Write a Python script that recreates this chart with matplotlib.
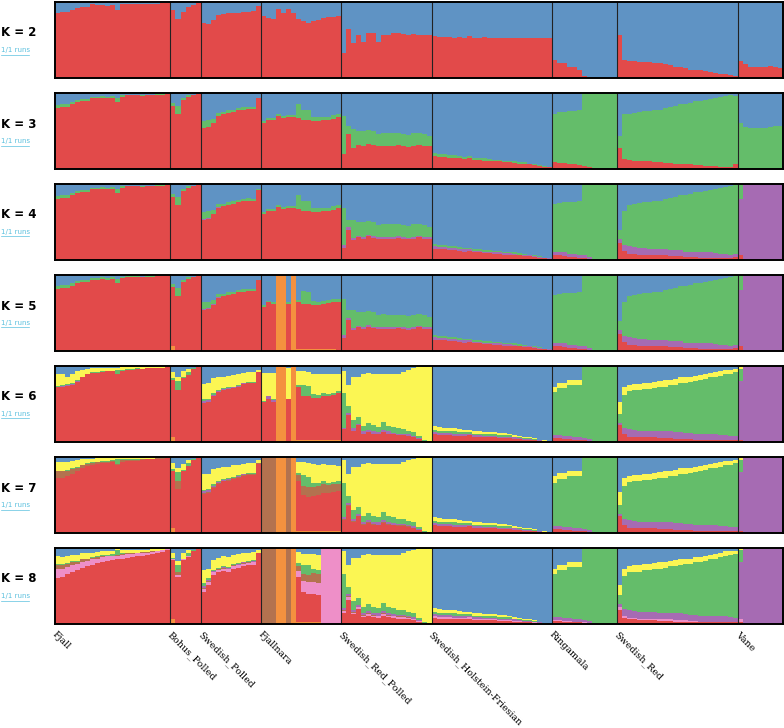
#!/usr/bin/env python3

# +
# import(s)
# -
import numpy as np
import matplotlib as mpl
mpl.use('Agg')
import matplotlib.pyplot as plt
from matplotlib.lines import Line2D


# +
# populations, sample counts and cluster colours
# -
POPS = ['Fjall', 'Bohus_Polled', 'Swedish_Polled', 'Fjallnara', 'Swedish_Red_Polled',
        'Swedish_Holstein-Friesian', 'Ringamala', 'Swedish_Red', 'Vane']
KEYS = ['FJ', 'BO', 'SP', 'FN', 'SRP', 'SHF', 'RI', 'SR', 'VA']
SIZES = [23, 6, 12, 16, 18, 24, 13, 24, 9]

# stacking order, bottom of the bar to the top (blue takes what is left)
CLUSTERS = ['orange', 'red', 'pink', 'brown', 'purple', 'green', 'yellow', 'blue']
COLORS = {'orange': '#f4913f', 'red': '#e24a4a', 'pink': '#ee8fc8', 'brown': '#b3724f',
          'purple': '#a66bb3', 'green': '#64bd6a', 'yellow': '#fbf653', 'blue': '#5f93c4'}

KS = [2, 3, 4, 5, 6, 7, 8]


# +
# membership (%) per individual
# -
# K = 2
k2_red = dict(
    FJ=[85, 87, 87, 89, 92, 93, 93, 97, 96, 96, 95, 96, 90, 97, 98, 98, 98, 97, 98, 98, 98, 99, 99],
    BO=[89, 78, 87, 93, 96, 99],
    SP=[72, 71, 76, 83, 84, 85, 85, 86, 87, 87, 88, 95],
    FN=[81, 79, 78, 91, 86, 91, 86, 78, 75, 73, 75, 76, 79, 80, 80, 81],
    SRP=[33, 65, 46, 57, 48, 59, 59, 48, 57, 57, 59, 59, 58, 57, 58, 56, 57, 57],
    SHF=[55, 54, 54, 54, 53, 54, 53, 55, 53, 53, 54, 53, 53, 53, 52, 53, 53, 52, 53, 53, 53, 52, 53, 53],
    RI=[24, 20, 20, 15, 15, 11, 3, 1, 0, 0, 0, 0, 0],
    SR=[57, 24, 22, 22, 21, 21, 21, 20, 20, 18, 17, 15, 14, 13, 11, 10, 10, 9, 8, 6, 5, 5, 4, 3],
    VA=[22, 18, 15, 15, 15, 15, 16, 14, 13])

# K = 3
k3_red = dict(
    FJ=[80, 82, 82, 85, 88, 90, 90, 93, 93, 94, 93, 94, 88, 95, 97, 97, 97, 96, 97, 97, 98, 98, 99],
    BO=[83, 72, 91, 95, 97, 99],
    SP=[54, 55, 61, 70, 72, 74, 75, 77, 78, 79, 79, 93],
    FN=[61, 64, 64, 70, 67, 69, 69, 67, 65, 65, 63, 63, 64, 65, 66, 68],
    SRP=[20, 46, 28, 32, 30, 33, 31, 30, 30, 30, 30, 31, 30, 29, 30, 32, 30, 30],
    SHF=[17, 16, 16, 15, 15, 14, 13, 14, 12, 12, 11, 11, 10, 10, 9, 9, 8, 7, 7, 6, 5, 4, 3, 2],
    RI=[9, 8, 8, 6, 6, 5, 4, 3, 1, 0, 0, 0, 0],
    SR=[28, 13, 12, 11, 11, 10, 10, 9, 9, 8, 8, 7, 7, 6, 6, 5, 5, 4, 4, 4, 3, 3, 3, 6])
k3_green = dict(
    FJ=[4, 4, 4, 3, 3, 2, 2, 2, 2, 2, 2, 2, 6, 2, 1, 1, 1, 1, 1, 1, 1, 1, 0],
    BO=[4, 11, 3, 2, 1, 0],
    SP=[9, 9, 5, 4, 3, 3, 3, 3, 3, 3, 2, 1],
    FN=[2, 3, 3, 2, 3, 2, 2, 19, 13, 12, 5, 5, 4, 4, 5, 4],
    SRP=[50, 10, 24, 18, 20, 18, 19, 16, 18, 17, 17, 16, 16, 16, 17, 16, 16, 14],
    SHF=[4, 4, 4, 3, 3, 3, 3, 3, 3, 3, 3, 2, 2, 2, 2, 2, 2, 2, 2, 1, 1, 1, 1, 1],
    RI=[64, 67, 67, 70, 70, 73, 96, 97, 99, 100, 100, 100, 100],
    SR=[15, 59, 60, 63, 64, 66, 66, 68, 69, 72, 74, 76, 78, 80, 81, 84, 85, 87, 88, 89, 92, 93, 94, 90],
    VA=[61, 55, 54, 54, 54, 54, 55, 56, 56])

# K = 4
k4_red = dict(k3_red,
    SP=[53, 54, 60, 69, 71, 73, 74, 76, 77, 78, 78, 92],
    SRP=[16, 40, 26, 30, 28, 31, 29, 28, 28, 28, 28, 29, 28, 27, 28, 30, 28, 28],
    SHF=[15, 14, 14, 13, 13, 12, 11, 12, 10, 10, 9, 9, 8, 8, 7, 7, 6, 6, 5, 5, 4, 3, 2, 1],
    RI=[6, 6, 5, 4, 4, 3, 2, 1, 0, 0, 0, 0, 0],
    SR=[23, 12, 8, 8, 7, 7, 7, 6, 6, 6, 5, 5, 5, 4, 4, 4, 3, 3, 3, 3, 2, 2, 2, 4],
    VA=[7, 0, 0, 0, 0, 0, 0, 0, 0])
k4_purple = dict(
    SP=[1, 1, 1, 1, 0, 0, 0, 0, 0, 0, 0, 0],
    SRP=[4, 3, 3, 2, 2, 2, 2, 2, 2, 2, 2, 2, 2, 2, 2, 2, 2, 2],
    SHF=[3, 3, 3, 3, 3, 3, 3, 2, 2, 2, 2, 2, 2, 2, 2, 2, 2, 1, 1, 1, 1, 1, 1, 1],
    RI=[5, 5, 5, 4, 4, 4, 4, 3, 1, 0, 0, 0, 0],
    SR=[4, 8, 10, 9, 9, 9, 8, 8, 8, 8, 8, 8, 8, 7, 7, 7, 7, 7, 7, 6, 6, 6, 5, 4],
    VA=[73, 100, 100, 100, 100, 100, 100, 100, 100])
k4_green = dict(k3_green,
    SRP=[48, 10, 24, 18, 20, 18, 19, 16, 18, 17, 17, 16, 16, 16, 17, 16, 16, 14],
    SHF=[3, 3, 3, 3, 3, 2, 2, 2, 2, 2, 2, 2, 2, 2, 2, 2, 2, 2, 2, 1, 1, 1, 0, 0],
    RI=[63, 64, 66, 68, 68, 71, 94, 96, 99, 100, 100, 100, 100],
    SR=[13, 44, 55, 57, 59, 60, 61, 63, 64, 66, 69, 70, 72, 75, 76, 78, 80, 81, 82, 84, 87, 88, 91, 91],
    VA=[20, 0, 0, 0, 0, 0, 0, 0, 0])

# K = 5
k5_orange = dict(
    FJ=[1] * 23,
    BO=[6, 0, 0, 0, 0, 0],
    SP=[1] * 12,
    FN=[1, 1, 1, 100, 100, 1, 100, 2, 2, 2, 2, 2, 2, 2, 2, 1],
    SRP=[1] * 18)
k5_red = dict(k4_red,
    BO=[78, 72, 91, 95, 97, 99],
    FN=[57, 63, 61, 0, 0, 61, 0, 62, 60, 60, 58, 58, 60, 61, 62, 64])
k5_purple = k4_purple
k5_green = dict(k4_green,
    FN=[2, 2, 2, 0, 0, 2, 0, 3, 17, 15, 6, 5, 4, 4, 5, 4])

# K = 6
k6_orange = dict(k5_orange,
    FN=[1, 1, 1, 100, 100, 1, 100, 2, 2, 2, 2, 2, 2, 2, 2, 2])
k6_red = dict(
    FJ=[71, 72, 73, 74, 78, 84, 88, 90, 90, 91, 92, 92, 88, 93, 94, 94, 95, 95, 96, 96, 97, 97, 98],
    BO=[76, 69, 84, 88, 96, 99],
    SP=[50, 51, 59, 65, 68, 69, 70, 72, 75, 76, 76, 91],
    FN=[51, 56, 52, 0, 0, 56, 0, 70, 58, 58, 56, 56, 58, 58, 60, 62],
    SRP=[16, 34, 14, 21, 10, 12, 10, 9, 12, 10, 9, 8, 8, 7, 5, 3, 0, 0],
    SHF=[10, 9, 9, 9, 8, 8, 8, 9, 7, 7, 6, 6, 6, 5, 5, 5, 4, 4, 3, 3, 2, 1, 1, 0],
    RI=[5, 5, 4, 4, 3, 3, 2, 1, 0, 0, 0, 0, 0],
    SR=[22, 10, 7, 7, 6, 6, 6, 6, 5, 5, 5, 4, 4, 4, 4, 3, 3, 3, 3, 3, 2, 2, 2, 3],
    VA=[3, 0, 0, 0, 0, 0, 0, 0, 0])
k6_purple = dict(
    FJ=[1, 1, 1, 1, 1] + [0] * 18,
    SP=[3, 3, 2, 1, 1, 1, 1, 1, 1, 1, 1, 0],
    FN=[1, 3, 2, 0, 0, 0, 0, 0, 0, 0, 0, 0, 0, 0, 0, 0],
    SRP=[2, 3, 3, 2, 3, 3, 3, 3, 3, 3, 2, 2, 2, 2, 2, 1, 0, 0],
    SHF=[3, 3, 3, 3, 3, 3, 3, 2, 2, 2, 2, 2, 2, 2, 2, 2, 2, 1, 1, 1, 1, 1, 0, 0],
    RI=[4, 4, 4, 4, 4, 3, 3, 3, 1, 0, 0, 0, 0],
    SR=[3, 9, 10, 9, 9, 9, 9, 9, 9, 9, 9, 9, 9, 8, 8, 8, 8, 8, 8, 7, 7, 7, 6, 5],
    VA=[77, 100, 100, 100, 100, 100, 100, 100, 100])
k6_green = dict(
    FJ=[1, 1, 1, 1, 1, 1, 1, 1, 1, 1, 1, 1, 6, 1, 1, 1, 1, 0, 0, 0, 0, 0, 0],
    BO=[2, 11, 1, 4, 1, 0],
    SP=[2, 2, 2, 1, 1, 1, 1, 1, 1, 1, 1, 0],
    FN=[1, 1, 1, 0, 0, 0, 0, 3, 15, 14, 5, 4, 4, 3, 3, 3],
    SRP=[45, 9, 11, 9, 7, 9, 8, 7, 10, 7, 8, 7, 6, 5, 5, 3, 1, 0],
    SHF=[3, 3, 3, 3, 3, 2, 2, 2, 2, 2, 2, 2, 2, 2, 2, 2, 1, 1, 1, 1, 1, 0, 0, 0],
    RI=[57, 62, 63, 67, 68, 69, 94, 95, 99, 100, 100, 100, 100],
    SR=[12, 43, 50, 52, 53, 55, 55, 56, 58, 59, 61, 62, 64, 66, 67, 69, 70, 72, 74, 76, 78, 80, 82, 84],
    VA=[16, 0, 0, 0, 0, 0, 0, 0, 0])
k6_yellow = dict(
    FJ=[15, 14, 9, 12, 12, 9, 6, 5, 5, 5, 4, 4, 3, 4, 3, 3, 3, 3, 2, 2, 2, 2, 1],
    BO=[8, 5, 8, 4, 1, 0],
    SP=[20, 20, 20, 17, 15, 15, 15, 15, 13, 13, 13, 3],
    FN=[37, 30, 35, 0, 0, 40, 0, 18, 18, 18, 26, 28, 26, 27, 24, 22],
    SRP=[30, 28, 57, 53, 69, 66, 68, 70, 64, 69, 70, 72, 75, 80, 84, 92, 97, 100],
    SHF=[5, 5, 4, 4, 4, 4, 3, 3, 3, 3, 3, 3, 3, 3, 3, 2, 2, 2, 2, 2, 1, 1, 1, 0],
    RI=[7, 7, 7, 7, 7, 7, 1, 1, 0, 0, 0, 0, 0],
    SR=[15, 10, 8, 8, 8, 8, 8, 8, 8, 8, 7, 8, 8, 7, 7, 7, 7, 6, 6, 6, 6, 6, 5, 4],
    VA=[4, 0, 0, 0, 0, 0, 0, 0, 0])

# K = 7
k7_orange = dict(k6_orange,
    FN=[0, 0, 0, 100, 100, 0, 100, 2, 2, 2, 2, 2, 2, 2, 2, 2])
k7_red = dict(k6_red,
    FJ=[72, 72, 74, 77, 80, 84, 87, 89, 90, 91, 91, 92, 88, 93, 94, 94, 95, 95, 96, 96, 97, 97, 98],
    BO=[76, 58, 82, 88, 96, 99],
    SP=[50, 51, 58, 64, 67, 68, 70, 72, 74, 75, 75, 90],
    FN=[0, 0, 0, 0, 0, 0, 0, 66, 48, 46, 47, 48, 50, 50, 52, 53])
k7_brown = dict(
    FJ=[8, 8, 7, 6, 5, 4, 3, 2, 2, 2, 2, 2, 2, 2, 1, 1, 1, 1, 1, 1, 1, 1, 0],
    BO=[0, 10, 0, 0, 0, 0],
    SP=[2, 2, 2, 1, 1, 1, 1, 1, 1, 1, 1, 1],
    FN=[100, 100, 100, 0, 0, 100, 0, 8, 12, 12, 12, 12, 12, 11, 10, 10],
    SRP=[2, 2, 1, 1, 1, 1, 1, 1, 1, 1, 1, 1, 1, 1, 1, 0, 0, 0])
k7_purple = dict(k6_purple,
    FJ=[0] * 23,
    SP=[2, 2, 1, 1, 1, 1, 1, 1, 1, 1, 1, 0],
    FN=[0] * 16)
k7_green = dict(k6_green,
    BO=[2, 12, 1, 4, 1, 0],
    FN=[0, 0, 0, 0, 0, 0, 0, 3, 14, 14, 5, 4, 4, 3, 3, 3])
k7_yellow = dict(k6_yellow,
    FJ=[12, 12, 11, 10, 9, 7, 6, 5, 5, 4, 4, 4, 2, 3, 3, 3, 3, 2, 2, 2, 1, 1, 1],
    SP=[21, 20, 20, 18, 16, 15, 15, 14, 13, 13, 13, 4],
    FN=[0, 0, 0, 0, 0, 0, 0, 15, 18, 18, 25, 24, 23, 23, 22, 20],
    RI=[9, 8, 8, 7, 7, 7, 1, 1, 0, 0, 0, 0, 0],
    SR=[17, 10, 8, 8, 8, 8, 8, 8, 8, 8, 7, 8, 8, 7, 7, 7, 7, 6, 6, 6, 6, 6, 5, 4])

# K = 8
k8_orange = dict(k6_orange,
    FN=[0, 0, 0, 100, 100, 0, 100, 2, 2, 2, 2, 2, 0, 0, 0, 0])
k8_red = dict(
    FJ=[60, 61, 65, 68, 70, 73, 75, 77, 79, 81, 82, 83, 84, 85, 86, 87, 88, 89, 90, 91, 92, 94, 96],
    BO=[78, 62, 84, 88, 96, 99],
    SP=[41, 50, 63, 67, 69, 68, 72, 73, 75, 76, 77, 92],
    FN=[0, 0, 0, 0, 0, 0, 0, 60, 40, 38, 37, 36, 0, 0, 0, 0],
    SRP=[14, 31, 12, 19, 8, 10, 8, 7, 10, 8, 7, 6, 6, 5, 4, 2, 0, 0],
    SHF=[8, 7, 7, 7, 6, 6, 6, 7, 5, 5, 5, 5, 5, 4, 4, 4, 3, 3, 2, 2, 1, 1, 0, 0],
    RI=[4, 4, 3, 3, 2, 2, 1, 1, 0, 0, 0, 0, 0],
    SR=[18, 8, 6, 6, 5, 5, 5, 5, 4, 4, 4, 3, 3, 3, 3, 3, 2, 2, 2, 2, 2, 2, 2, 2],
    VA=[2, 0, 0, 0, 0, 0, 0, 0, 0])
k8_pink = dict(
    FJ=[12, 11, 9, 9, 8, 8, 7, 7, 6, 6, 6, 5, 5, 5, 5, 4, 4, 4, 3, 3, 3, 2, 2],
    BO=[1, 3, 1, 1, 0, 0],
    SP=[4, 4, 4, 3, 3, 3, 3, 3, 3, 3, 3, 1],
    FN=[0, 0, 0, 0, 0, 0, 0, 8, 14, 15, 16, 16, 100, 100, 100, 100],
    SRP=[2, 3, 2, 2, 2, 2, 2, 2, 2, 2, 2, 2, 2, 2, 1, 1, 0, 0],
    SHF=[2, 2, 2, 2, 2, 2, 2, 2, 2, 2, 1, 1, 1, 1, 1, 1, 1, 1, 1, 1, 1, 0, 0, 0],
    RI=[1, 1, 1, 1, 1, 1, 1, 0, 0, 0, 0, 0, 0],
    SR=[5, 3, 2, 2, 2, 2, 2, 2, 2, 2, 2, 2, 2, 2, 1, 1, 1, 1, 1, 1, 1, 1, 1, 1],
    VA=[4, 0, 0, 0, 0, 0, 0, 0, 0])
k8_brown = dict(k7_brown,
    FJ=[5, 5, 4, 4, 3, 3, 2, 2, 2, 2, 1, 1, 1, 1, 1, 1, 1, 1, 1, 1, 0, 0, 0],
    BO=[0, 3, 0, 0, 0, 0],
    SP=[2, 1, 1, 1, 1, 1, 1, 1, 1, 1, 1, 0],
    FN=[100, 100, 100, 0, 0, 100, 0, 6, 10, 10, 12, 12, 0, 0, 0, 0])
k8_purple = dict(k7_purple,
    VA=[76, 100, 100, 100, 100, 100, 100, 100, 100])
k8_green = dict(k6_green,
    FJ=[1, 1, 1, 1, 1, 1, 1, 1, 1, 1, 1, 2, 6, 1, 1, 1, 0, 0, 0, 0, 0, 0, 0],
    BO=[2, 10, 1, 4, 1, 0],
    SP=[4, 2, 1, 1, 1, 1, 1, 1, 1, 1, 1, 0],
    FN=[0, 0, 0, 0, 0, 0, 0, 4, 12, 12, 5, 5, 0, 0, 0, 0],
    VA=[15, 0, 0, 0, 0, 0, 0, 0, 0])
k8_yellow = dict(k6_yellow,
    FJ=[10, 9, 10, 8, 8, 7, 7, 6, 6, 5, 5, 4, 2, 4, 4, 4, 4, 3, 3, 3, 3, 2, 1],
    BO=[6, 5, 7, 4, 1, 0],
    SP=[17, 12, 13, 13, 13, 13, 12, 12, 11, 11, 11, 4],
    FN=[0, 0, 0, 0, 0, 0, 0, 15, 14, 15, 20, 20, 0, 0, 0, 0],
    RI=[6, 6, 6, 6, 6, 6, 1, 1, 0, 0, 0, 0, 0],
    SR=[13, 9, 8, 8, 8, 8, 8, 8, 8, 8, 7, 8, 8, 7, 7, 7, 7, 6, 6, 6, 6, 6, 5, 4],
    VA=[3, 0, 0, 0, 0, 0, 0, 0, 0])

QMAT = {
    2: {'red': k2_red},
    3: {'red': k3_red, 'green': k3_green},
    4: {'red': k4_red, 'purple': k4_purple, 'green': k4_green},
    5: {'orange': k5_orange, 'red': k5_red, 'purple': k5_purple, 'green': k5_green},
    6: {'orange': k6_orange, 'red': k6_red, 'purple': k6_purple, 'green': k6_green,
        'yellow': k6_yellow},
    7: {'orange': k7_orange, 'red': k7_red, 'brown': k7_brown, 'purple': k7_purple,
        'green': k7_green, 'yellow': k7_yellow},
    8: {'orange': k8_orange, 'red': k8_red, 'pink': k8_pink, 'brown': k8_brown,
        'purple': k8_purple, 'green': k8_green, 'yellow': k8_yellow},
}


# +
# function: full_row() - one cluster across all individuals
# -
def full_row(parts):
    out = []
    for key, n in zip(KEYS, SIZES):
        v = list(parts.get(key, [0] * n))
        out.extend((v + [0] * n)[:n])
    return np.array(out, dtype=float)


# +
# function: q_matrix() - (clusters x individuals), columns sum to 1
# -
def q_matrix(k):
    rows = [full_row(QMAT[k].get(c, {})) for c in CLUSTERS[:-1]]
    rows = np.array(rows)
    blue = np.clip(100.0 - rows.sum(axis=0), 0.0, None)
    rows = np.vstack([rows, blue])
    return rows / rows.sum(axis=0)


# +
# function: structure_plot()
# -
def structure_plot() -> None:

    W, H = 784, 728
    left, right = 55, 783
    tops = [2, 93, 184, 275, 366, 457, 548]
    ph = 76
    n_ind = sum(SIZES)
    bounds = np.concatenate([[0], np.cumsum(SIZES)])
    x = np.arange(n_ind)

    fig = plt.figure(figsize=(W / 100, H / 100), dpi=100)

    for i, k in enumerate(KS):
        ax = fig.add_axes([left / W, 1 - (tops[i] + ph) / H, (right - left) / W, ph / H])
        q = q_matrix(k)
        bottom = np.zeros(n_ind)
        for c, row in zip(CLUSTERS, q):
            if row.sum() <= 0:
                continue
            ax.bar(x, row, width=1.0, bottom=bottom, align='edge', color=COLORS[c],
                   linewidth=0, antialiased=False)
            bottom += row
        for b in bounds[1:-1]:
            ax.axvline(b, color='#222222', lw=0.8)
        ax.set_xlim(0, n_ind)
        ax.set_ylim(0, 1)
        ax.set_xticks([])
        ax.set_yticks([])
        for s in ax.spines.values():
            s.set_linewidth(1.4)
            s.set_color('black')

        # K label and run count
        yk = 1 - (tops[i] + 31) / H
        fig.text(1 / W, yk, f"K = {k}", fontsize=8.5, fontweight='bold', ha='left', va='center')
        yr = 1 - (tops[i] + 48) / H
        fig.text(1 / W, yr, "1/1 runs", fontsize=5, color='#5bc0de', ha='left', va='center')
        fig.add_artist(Line2D([1 / W, 29 / W], [yr - 4.5 / H, yr - 4.5 / H],
                              color='#5bc0de', lw=0.5))

        # population names under the last panel
        if k == KS[-1]:
            for name, b in zip(POPS, bounds[:-1]):
                ax.text(b + 0.4, -0.08, name, transform=ax.get_xaxis_transform(),
                        rotation=-45, rotation_mode='anchor', ha='left', va='top',
                        fontsize=6.8, family='DejaVu Serif')

    plt.savefig('out.png', dpi=100)


# +
# main()
# -
if __name__ == '__main__':
    structure_plot()
